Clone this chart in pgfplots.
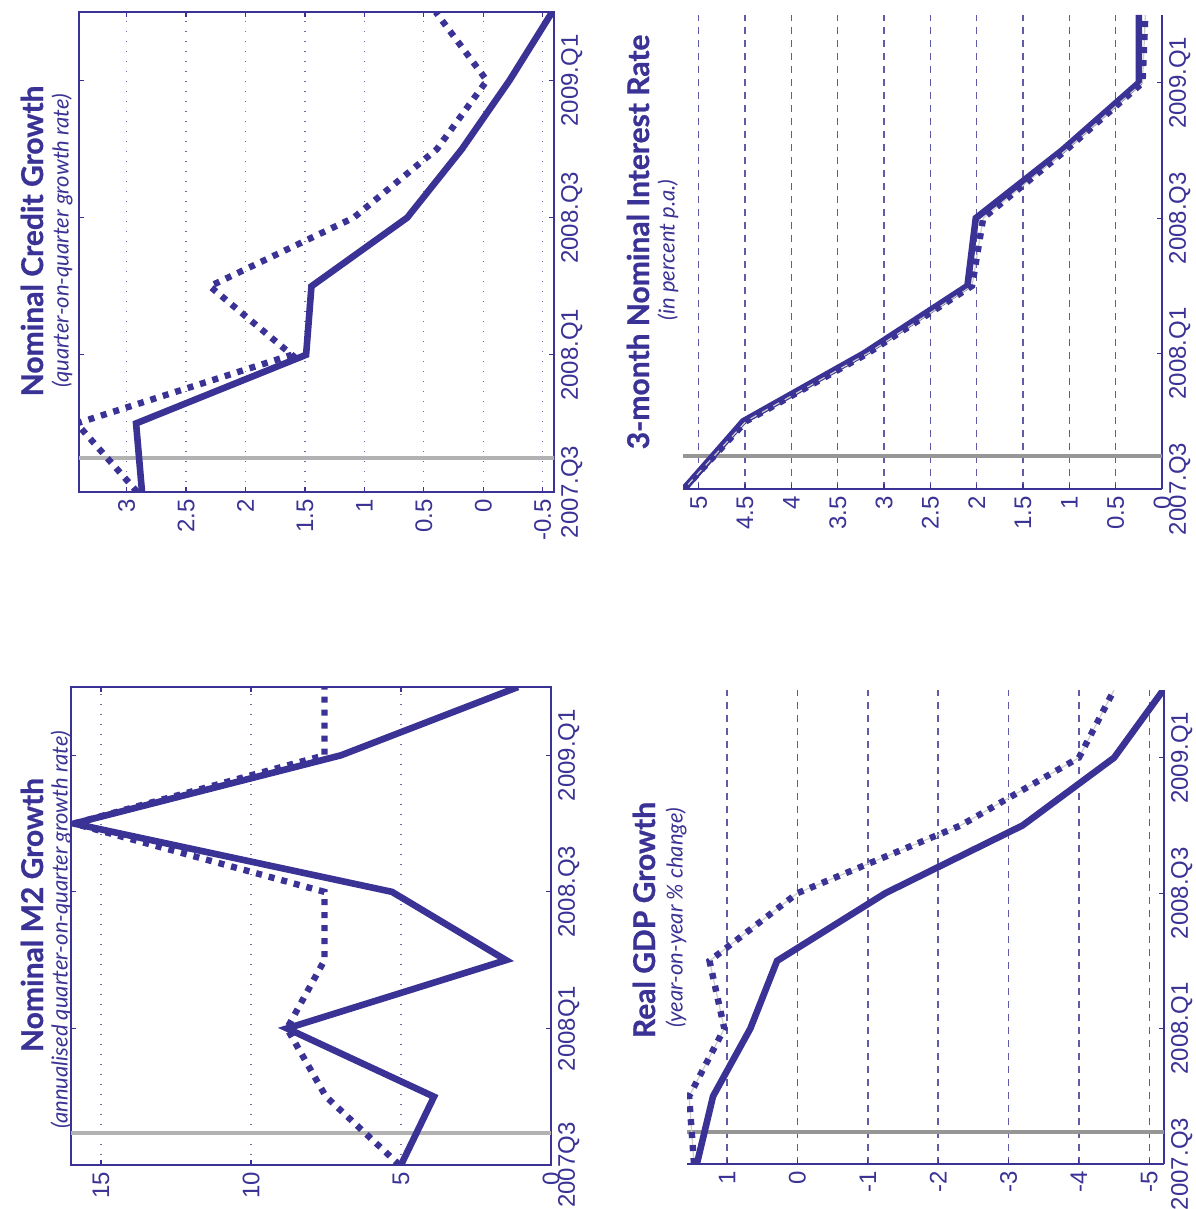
\documentclass[border=0pt]{standalone}
\usepackage{fontspec}
\setmainfont{Liberation Sans}
\newfontfamily\titlefont{Lato}[BoldFeatures={FakeBold=0.8}]
\usepackage{pgfplots}
\pgfplotsset{compat=1.18}
\usepackage{pgfplotstable}
\definecolor{mainblue}{RGB}{58,50,148}
\definecolor{gridA}{RGB}{110,108,165}
\definecolor{gridB}{RGB}{95,92,165}
\definecolor{vlineA}{RGB}{178,178,178}
\definecolor{vlineB}{RGB}{150,150,150}

% t = quarter index (0 = 2007Q3), s = solid series, d = dotted series
\pgfplotstableread{
t s d
0 5.0 5.05
1 3.9 7.5
2 8.8 8.8
3 1.5 7.55
4 5.3 7.55
5 15.9 15.9
6 7.0 7.55
7 1.1 7.55
}\mtwo
\pgfplotstableread{
t s d
0 2.87 2.91
1 2.92 3.42
2 1.49 1.61
3 1.445 2.30
4 0.64 1.09
5 0.18 0.39
6 -0.22 -0.03
7 -0.58 0.40
}\credit
\pgfplotstableread{
t s d
0 1.43 1.47
1 1.20 1.54
2 0.67 1.04
3 0.29 1.25
4 -1.25 0.0
5 -3.2 -2.32
6 -4.5 -4.0
7 -5.2 -4.5
}\gdp
\pgfplotstableread{
t s d
0 5.16 5.16
1 4.52 4.49
2 3.22 3.18
3 2.10 2.05
4 2.01 1.93
5 1.08 1.04
6 0.25 0.21
7 0.25 0.18
}\irate

\pgfplotsset{
  rot/.style={
    scale only axis, anchor=south west, clip=true,
    ymin=0, ymax=7, ytick={0,2,4,6},
    tick align=inside, major tick length=2.5pt,
    axis line style={mainblue, line width=0.6pt},
    tick style={mainblue, line width=0.6pt},
    xticklabel style={rotate=90, anchor=east, font=\fontsize{12}{14}\selectfont, text=mainblue},
    yticklabel style={rotate=90, anchor=north, font=\fontsize{12}{14}\selectfont, text=mainblue},
    xmajorgrids=true,
    /pgf/number format/assume math mode=true,
  },
  boxed/.style={rot,
    xtick pos=both, ytick pos=both,
    xticklabel pos=left, yticklabel pos=right,
    major grid style={gridA, line width=0.6pt, dash pattern=on 0.6pt off 4.4pt},
  },
  open/.style={rot,
    every non boxed x axis/.style={}, every non boxed y axis/.style={},
    axis x line*=bottom, axis y line*=right,
    xtick pos=left, ytick pos=right,
    xticklabel pos=left, yticklabel pos=right,
    x axis line style={-}, y axis line style={-},
    major grid style={gridB, line width=0.7pt, dash pattern=on 3.3pt off 3.2pt},
  },
  solidline/.style={mainblue, line width=3.3pt},
  dotline/.style={mainblue, line width=3.2pt, dash pattern=on 3pt off 3.5pt},
}

\begin{document}
\begin{tikzpicture}
\path[use as bounding box] (0,0) rectangle (597.5pt,604.5pt);

% Nominal M2 growth
\begin{axis}[boxed, at={(35.5pt,22pt)}, width=240pt, height=239pt,
  xmin=-16, xmax=0, xtick={-15,-10,-5,0}, xticklabels={15,10,5,0},
  yticklabels={2007Q3,2008Q1,2008.Q3,2009.Q1}]
\addplot[vlineA, line width=2pt, forget plot] coordinates {(-16,0.47) (0,0.47)};
\addplot[solidline] table[x expr=-\thisrow{s}, y=t] {\mtwo};
\addplot[dotline] table[x expr=-\thisrow{d}, y=t] {\mtwo};
\end{axis}

% Nominal credit growth
\begin{axis}[boxed, at={(39.5pt,358.5pt)}, width=237.5pt, height=240pt,
  xmin=-3.4, xmax=0.595, xtick={-3,-2.5,-2,-1.5,-1,-0.5,0,0.5},
  xticklabels={3,2.5,2,1.5,1,0.5,0,-0.5},
  yticklabels={2007.Q3,2008.Q1,2008.Q3,2009.Q1}]
\addplot[vlineA, line width=2pt, forget plot] coordinates {(-3.4,0.49) (0.6,0.49)};
\addplot[solidline] table[x expr=-\thisrow{s}, y=t] {\credit};
\addplot[dotline] table[x expr=-\thisrow{d}, y=t] {\credit};
\end{axis}

% Real GDP growth
\begin{axis}[open, at={(343.5pt,22.5pt)}, width=238.5pt, height=237pt,
  xmin=-1.57, xmax=5.21, xtick={-1,0,1,2,3,4,5},
  xticklabels={1,0,-1,-2,-3,-4,-5},
  yticklabels={2007.Q3,2008.Q1,2008.Q3,2009.Q1}]
\addplot[vlineB, line width=2pt, forget plot] coordinates {(-1.6,0.47) (5.3,0.47)};
\addplot[solidline] table[x expr=-\thisrow{s}, y=t] {\gdp};
\addplot[black!20, line width=0.6pt] table[x expr=-\thisrow{d}, y=t] {\gdp};
\addplot[dotline] table[x expr=-\thisrow{d}, y=t] {\gdp};
\end{axis}

% 3-month nominal interest rate
\begin{axis}[open, at={(341.5pt,360pt)}, width=239.5pt, height=237pt,
  xmin=-5.17, xmax=0, xtick={-5,-4.5,-4,-3.5,-3,-2.5,-2,-1.5,-1,-0.5,0},
  xticklabels={5,4.5,4,3.5,3,2.5,2,1.5,1,0.5,0},
  yticklabels={2007.Q3,2008.Q1,2008.Q3,2009.Q1}]
\addplot[vlineB, line width=2pt, forget plot] coordinates {(-5.2,0.49) (0,0.49)};
\addplot[solidline] table[x expr=-\thisrow{s}, y=t] {\irate};
\addplot[black!20, line width=0.6pt] table[x expr=-\thisrow{d}, y=t] {\irate};
\addplot[dotline] table[x expr=-\thisrow{d}, y=t] {\irate};
\end{axis}

% Titles (rotated like the rest of the page)
\begin{scope}[every node/.style={rotate=90, text=mainblue}]
\node[font=\titlefont\bfseries\fontsize{15}{17}\selectfont] at (16pt,147pt) {Nominal M2 Growth};
\node[font=\titlefont\itshape\fontsize{11}{13}\selectfont] at (30.5pt,139.5pt) {(annualised quarter-on-quarter growth rate)};
\node[font=\titlefont\bfseries\fontsize{15}{17}\selectfont] at (16pt,484pt) {Nominal Credit Growth};
\node[font=\titlefont\itshape\fontsize{11}{13}\selectfont] at (31pt,484pt) {(quarter-on-quarter growth rate)};
\node[font=\titlefont\bfseries\fontsize{15}{17}\selectfont] at (322pt,144.5pt) {Real GDP Growth};
\node[font=\titlefont\itshape\fontsize{11}{13}\selectfont] at (338pt,145.5pt) {(year-on-year \% change)};
\node[font=\titlefont\bfseries\fontsize{15}{17}\selectfont] at (319pt,483.5pt) {3-month Nominal Interest Rate};
\node[font=\titlefont\itshape\fontsize{11}{13}\selectfont] at (334pt,479.5pt) {(in percent \textit{p.a.})};
\end{scope}
\end{tikzpicture}
\end{document}
